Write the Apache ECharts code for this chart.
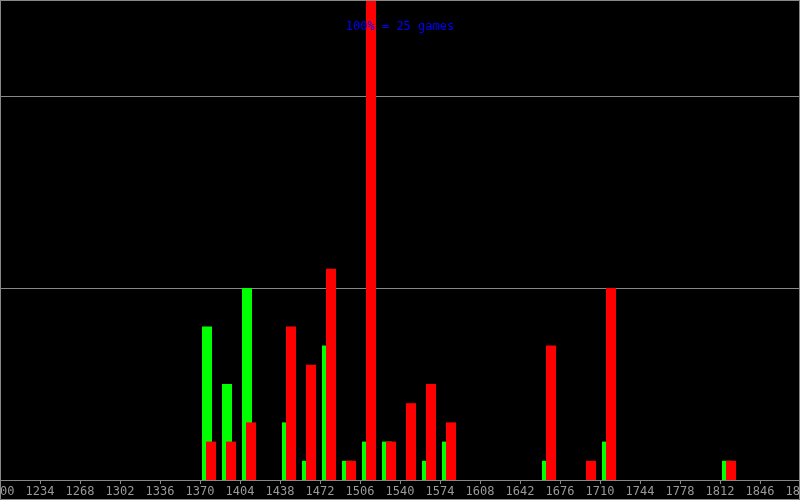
<!DOCTYPE html>
<html>
<head>
<meta charset="utf-8">
<script src="https://cdn.jsdelivr.net/npm/echarts@6/dist/echarts.min.js"></script>
<style>
html,body{margin:0;padding:0;background:#000;}
#c{width:800px;height:500px;}
</style>
</head>
<body>
<div id="c"></div>
<script>
const binWidth = 17;
const binStarts = [1370, 1387, 1404, 1438, 1455, 1472, 1489, 1506, 1523, 1540, 1557, 1574, 1659, 1693, 1710, 1812];
const greenGames = [8, 5, 10, 3, 1, 7, 1, 2, 2, 0, 1, 2, 1, 0, 2, 1];
const redGames   = [2, 2, 3, 8, 6, 11, 1, 25, 2, 4, 5, 3, 7, 1, 10, 1];
const titleText = '100% = 25 games';

const chart = echarts.init(document.getElementById('c'), null, {renderer: 'canvas'});

function makeRender(offsetFrac, color) {
  return function (params, api) {
    const start = api.value(0);
    const v = api.value(1);
    if (!v) return null;
    const p0 = api.coord([start, 0]);
    const p1 = api.coord([start, v]);
    const w = api.size([binWidth, 0])[0];
    return {
      type: 'rect',
      shape: {x: Math.round(p0[0] + offsetFrac * w), y: p1[1], width: Math.round(0.5 * w), height: p0[1] - p1[1]},
      style: {fill: color}
    };
  };
}

chart.setOption({
  backgroundColor: '#000',
  animation: false,
  grid: {left: 0, right: 0, top: 0, bottom: 20, containLabel: false, outerBoundsMode: 'none'},
  title: {
    text: titleText, left: 'center', top: 16, z: 20,
    textStyle: {color: '#0000ff', fontFamily: 'DejaVu Sans Mono', fontSize: 12, fontWeight: 'normal'}
  },
  xAxis: {
    type: 'value', min: 1200, max: 1880, interval: 34,
    axisLine: {show: true, lineStyle: {color: '#888', width: 1}},
    axisTick: {show: true, length: 4, lineStyle: {color: '#888'}},
    axisLabel: {color: '#999', fontFamily: 'DejaVu Sans Mono', fontSize: 12, margin: 6, showMinLabel: true, showMaxLabel: true, hideOverlap: false, formatter: v => String(v)},
    splitLine: {show: false}
  },
  yAxis: {
    type: 'value', min: 0, max: 25, interval: 10,
    axisLine: {show: false}, axisTick: {show: false}, axisLabel: {show: false},
    splitLine: {show: true, lineStyle: {color: '#888', width: 1}}
  },
  graphic: [{
    type: 'rect', z: 100,
    shape: {x: 0.5, y: 0.5, width: 799, height: 499},
    style: {fill: null, stroke: '#888', lineWidth: 1}
  }],
  series: [
    {type: 'custom', renderItem: makeRender(0.1, '#00ff00'), data: binStarts.map((b, i) => [b, greenGames[i]]), z: 2},
    {type: 'custom', renderItem: makeRender(0.3, '#ff0000'), data: binStarts.map((b, i) => [b, redGames[i]]), z: 3}
  ]
});
</script>
</body>
</html>
